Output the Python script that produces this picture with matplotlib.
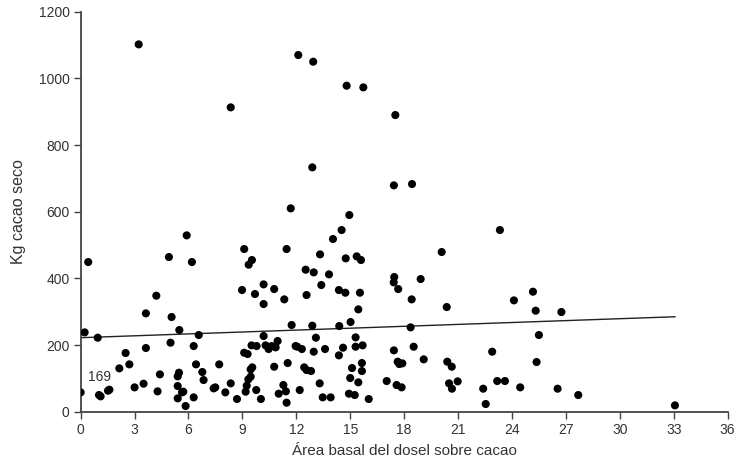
import matplotlib
matplotlib.use("Agg")
import matplotlib.pyplot as plt
import numpy as np

plt.rcParams['font.family'] = ['Liberation Sans', 'DejaVu Sans']

# basal area of shade canopy (x) and dry cocoa yield in kg (y)
area_basal = [
    0.00, 0.42, 0.22, 0.95, 1.02, 1.11, 1.52, 1.60, 2.15, 2.50,
    2.71, 3.00, 3.50, 3.63, 3.63, 4.21, 4.41, 4.28, 4.91, 5.06,
    5.00, 5.49, 5.47, 5.40, 5.40, 5.40, 5.71, 5.64, 5.84, 5.90,
    6.19, 6.57, 6.29, 6.42, 6.29, 6.77, 6.84, 7.40, 7.49, 7.71,
    8.05, 8.35, 8.70, 8.98, 9.10, 9.35, 9.53, 9.70, 9.10, 9.29,
    9.51, 9.79, 9.46, 9.55, 9.46, 9.33, 9.24, 9.18, 9.77, 10.03,
    10.18, 10.18, 10.77, 11.33, 11.46, 10.18, 10.29, 10.46, 10.63, 10.85,
    10.96, 10.77, 11.28, 11.02, 11.42, 11.46, 11.52, 11.74, 11.96, 12.05,
    12.31, 12.19, 12.44, 12.57, 12.82, 12.57, 12.52, 12.97, 12.89, 12.97,
    13.09, 13.30, 13.32, 13.39, 13.47, 13.91, 13.60, 13.82, 14.04, 14.52,
    14.37, 14.37, 14.39, 14.60, 14.73, 14.75, 15.02, 15.00, 15.10, 14.93,
    15.25, 15.30, 15.30, 15.45, 15.45, 15.54, 15.36, 15.60, 15.69, 15.65,
    15.65, 16.03, 17.45, 17.42, 17.67, 18.92, 18.42, 18.36, 18.53, 17.43,
    17.64, 17.73, 17.90, 17.03, 17.58, 17.86, 19.09, 20.09, 20.37, 20.40,
    20.65, 20.50, 20.66, 20.98, 22.90, 22.40, 22.54, 23.18, 23.61, 23.33,
    24.11, 24.46, 25.17, 25.32, 25.50, 25.37, 26.75, 26.54, 27.69, 33.07,
    12.11, 12.94, 14.80, 15.73, 8.35, 17.51, 12.89, 17.43, 18.44, 11.69,
    14.95, 3.23,
]
kg_cacao = [
    58, 449, 238, 222, 50, 46, 63, 66, 130, 176,
    142, 73, 84, 295, 191, 348, 112, 61, 464, 284,
    207, 245, 117, 106, 77, 40, 60, 58, 17, 529,
    449, 230, 197, 142, 43, 119, 95, 70, 73, 142,
    58, 85, 38, 365, 488, 441, 455, 353, 177, 173,
    199, 197, 127, 133, 105, 97, 78, 60, 65, 38,
    382, 323, 368, 337, 488, 227, 199, 188, 197, 193,
    212, 135, 80, 54, 61, 27, 146, 260, 197, 195,
    188, 65, 133, 125, 122, 350, 426, 418, 258, 180,
    222, 85, 472, 380, 43, 43, 188, 412, 518, 545,
    169, 365, 257, 192, 357, 460, 269, 101, 131, 54,
    50, 223, 195, 88, 307, 357, 466, 455, 199, 146,
    122, 38, 404, 388, 368, 398, 337, 253, 195, 184,
    150, 143, 145, 92, 80, 73, 157, 479, 314, 150,
    135, 85, 69, 91, 180, 69, 23, 92, 92, 545,
    334, 73, 360, 303, 230, 149, 299, 69, 50, 19,
    1070, 1050, 978, 973, 913, 890, 733, 679, 683, 610,
    590, 1102,
]

# fitted line
fit_intercept = 222
fit_slope = 1.9

x_ticks = list(range(0, 37, 3))
y_ticks = list(range(0, 1201, 200))

x = np.array(area_basal)
y = np.array(kg_cacao)

fig = plt.figure(figsize=(7.38, 4.63), dpi=100)
ax = fig.add_axes([0.1093, 0.1108, 0.8766, 0.8639])

ax.scatter(x, y, s=34, color='black', edgecolors='none', zorder=3)

xl = np.array([0, x.max()])
ax.plot(xl, fit_intercept + fit_slope * xl, color='#222222', lw=1.0, zorder=2)

ax.text(1.05, 82, '169', fontsize=10, color='#333333', ha='center', va='bottom')

ax.set_xlim(0, 36)
ax.set_ylim(0, 1200)
ax.set_xticks(x_ticks)
ax.set_yticks(y_ticks)

for side in ['top', 'right']:
    ax.spines[side].set_visible(False)
for side in ['left', 'bottom']:
    ax.spines[side].set_color('#444444')
    ax.spines[side].set_linewidth(1.3)

ax.tick_params(direction='out', length=5, width=1, color='#444444',
               labelsize=10, labelcolor='#333333', pad=3)

ax.set_xlabel('Área basal del dosel sobre cacao', fontsize=11, color='#333333', labelpad=5)
ax.set_ylabel('Kg cacao seco', fontsize=11.5, color='#333333', labelpad=9)

fig.savefig('out.png', dpi=100)
